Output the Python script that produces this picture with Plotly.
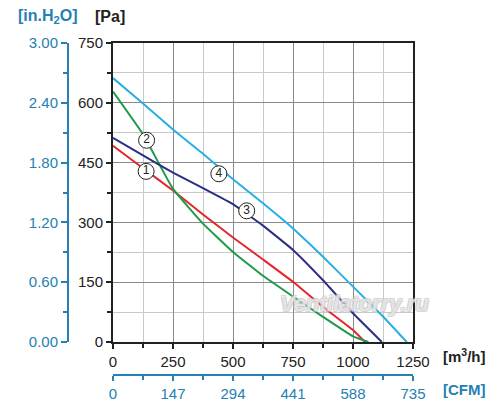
import plotly.graph_objects as go

# fan performance curves, flow in m3/h, static pressure in Pa
flow_1 = [0, 125, 250, 375, 500, 625, 750, 875, 1000, 1050]
pa_1 = [492, 436, 380, 320, 262, 207, 151, 88, 30, 0]

flow_2 = [0, 125, 250, 375, 500, 625, 750, 875, 1000, 1064]
pa_2 = [628, 521, 384, 297, 226, 166, 114, 63, 14, 0]

flow_3 = [0, 125, 250, 375, 500, 625, 750, 875, 1000, 1120]
pa_3 = [512, 468, 425, 386, 346, 292, 231, 155, 72, 0]

flow_4 = [0, 125, 250, 375, 500, 625, 750, 875, 1000, 1125, 1224]
pa_4 = [662, 598, 533, 472, 408, 348, 285, 214, 139, 64, 0]

curve_names = ["1", "2", "3", "4"]
curve_colors = ["#e3262b", "#1f9a4b", "#2b2f86", "#27aee3"]

# circled labels sitting on the curves
label_flow = [138, 140, 557, 441]
label_pa = [428, 506, 329, 422]

BLUE = "#2580b3"
DARK = "#222222"
FONT = "Liberation Sans, Arial, sans-serif"

W, H = 500, 413
ML, MR, MT, MB = 40, 87, 43, 38
PW, PH = W - ML - MR, H - MT - MB


def px_x(p):
    return (p - ML) / PW


def px_y(p):
    return (H - MB - p) / PH


fig = go.Figure()

series = [(flow_1, pa_1), (flow_2, pa_2), (flow_3, pa_3), (flow_4, pa_4)]
for (fx, fy), name, col in zip(series, curve_names, curve_colors):
    fig.add_trace(go.Scatter(
        x=fx, y=fy, mode="lines", name=name,
        line=dict(color=col, width=2, shape="spline", smoothing=0.3),
        hoverinfo="skip",
    ))

fig.add_trace(go.Scatter(
    x=label_flow, y=label_pa, mode="markers+text",
    text=curve_names, textposition="middle center",
    textfont=dict(family=FONT, size=12, color=DARK),
    marker=dict(size=16, color="white", line=dict(color=DARK, width=1)),
    hoverinfo="skip",
))

# helper traces so the secondary axes are drawn
fig.add_trace(go.Scatter(x=[0], y=[0], xaxis="x2", yaxis="y", mode="markers",
                         marker=dict(opacity=0), hoverinfo="skip"))
fig.add_trace(go.Scatter(x=[0], y=[0], xaxis="x", yaxis="y2", mode="markers",
                         marker=dict(opacity=0), hoverinfo="skip"))

x0 = px_x(113)
y0 = px_y(342)

axis_font = dict(family=FONT, size=15, color=DARK)
blue_font = dict(family=FONT, size=15, color=BLUE)

fig.update_layout(
    width=W, height=H,
    margin=dict(l=ML, r=MR, t=MT, b=MB),
    paper_bgcolor="white", plot_bgcolor="white",
    showlegend=False,
    font=dict(family=FONT),
    xaxis=dict(
        domain=[x0, 1], range=[0, 1250], dtick=250, automargin=False,
        showline=True, linecolor=DARK, linewidth=2, mirror=True,
        ticks="outside", ticklen=5, tickwidth=1.5, tickcolor=DARK,
        gridcolor="#8a8a8a", gridwidth=1, zeroline=False,
        tickfont=axis_font,
        minor=dict(dtick=125, ticks="outside", ticklen=4, tickcolor=DARK,
                   showgrid=True, gridcolor="#c9c9c9", gridwidth=1),
    ),
    yaxis=dict(
        domain=[y0, 1], range=[0, 750], dtick=150, automargin=False,
        showline=True, linecolor=DARK, linewidth=2, mirror=True,
        ticks="outside", ticklen=5, tickwidth=1.5, tickcolor=DARK,
        gridcolor="#8a8a8a", gridwidth=1, zeroline=False,
        tickfont=axis_font,
        minor=dict(dtick=75, ticks="outside", ticklen=4, tickcolor=DARK,
                   showgrid=True, gridcolor="#c9c9c9", gridwidth=1),
    ),
    xaxis2=dict(
        overlaying="x", anchor="free", position=0, side="bottom", automargin=False,
        domain=[x0, 1], range=[0, 735], tickvals=[0, 147, 294, 441, 588, 735],
        showline=True, linecolor=BLUE, linewidth=2,
        ticks="outside", ticklen=5, tickwidth=1.5, tickcolor=BLUE,
        showgrid=False, zeroline=False, tickfont=blue_font,
        minor=dict(tickvals=[73.5, 220.5, 367.5, 514.5, 661.5],
                   ticks="outside", ticklen=4, tickcolor=BLUE, showgrid=False),
    ),
    yaxis2=dict(
        overlaying="y", anchor="free", position=px_x(68), side="left",
        automargin=False,
        domain=[y0, 1], range=[0, 3], dtick=0.6, tickformat=".2f",
        showline=True, linecolor=BLUE, linewidth=2,
        ticks="outside", ticklen=6, tickwidth=1.5, tickcolor=BLUE,
        showgrid=False, zeroline=False, tickfont=blue_font,
        minor=dict(dtick=0.3, ticks="outside", ticklen=4, tickcolor=BLUE,
                   showgrid=False),
    ),
)

titles = [
    ("[in.H<sub>2</sub>O]", 48, 16, BLUE, 16),
    ("[Pa]", 110, 16, DARK, 16),
    ("[m<sup>3</sup>/h]", 464, 355, DARK, 15),
    ("[CFM]", 464, 389, BLUE, 15),
]
for txt, cx, cy, col, size in titles:
    fig.add_annotation(
        text=f"<b>{txt}</b>", x=px_x(cx), y=px_y(cy), xref="paper", yref="paper",
        showarrow=False, xanchor="center", yanchor="middle",
        font=dict(family=FONT, size=size, color=col),
    )

fig.add_annotation(
    text="<b><i>Ventilatorry.ru</i></b>", x=px_x(354), y=px_y(303),
    xref="paper", yref="paper", showarrow=False,
    xanchor="center", yanchor="middle",
    font=dict(family=FONT, size=22, color="rgba(255,255,255,0.55)",
              shadow="1px 1px 0 #c0c0c0, -1px -1px 0 #c0c0c0, 1px -1px 0 #c0c0c0, -1px 1px 0 #c0c0c0"),
)

# drop the default page margin so the figure sits at the window corner
fig.write_html("out.html", config={"displayModeBar": False},
               post_script="document.body.style.margin='0';")
